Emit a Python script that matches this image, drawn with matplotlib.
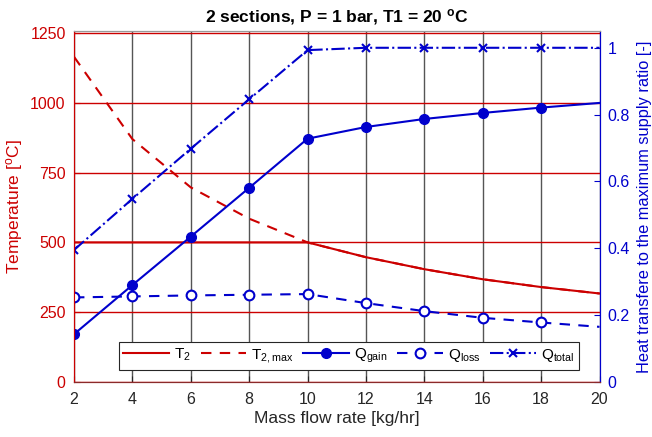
import numpy as np
import matplotlib
matplotlib.use('Agg')
import matplotlib.pyplot as plt

plt.rcParams['font.family'] = ['Liberation Sans', 'DejaVu Sans']
plt.rcParams['mathtext.default'] = 'regular'

m_dot = np.array([2, 4, 6, 8, 10, 12, 14, 16, 18, 20])
T2 = np.array([500, 500, 500, 500, 500, 447, 404, 368, 340, 317])
T2_max = np.array([1165, 870, 697, 585, 500, 447, 404, 368, 340, 317])
Q_gain = np.array([0.143, 0.290, 0.435, 0.581, 0.728, 0.763, 0.787, 0.805, 0.821, 0.835])
Q_loss = np.array([0.253, 0.256, 0.259, 0.261, 0.263, 0.236, 0.212, 0.192, 0.178, 0.165])
Q_total = np.array([0.395, 0.548, 0.698, 0.846, 0.993, 1.0, 1.0, 1.0, 1.0, 1.0])

red = '#cc0000'
blue = '#0000cc'
mk = slice(0, 9)  # no marker drawn at the last point

fig = plt.figure(figsize=(6.52, 4.37), dpi=100)
ax = fig.add_axes([0.1135, 0.1259, 0.806, 0.803])
ax2 = ax.twinx()

l1, = ax.plot(m_dot, T2, '-', color=red, lw=1.5, label='T$_2$')
l2, = ax.plot(m_dot, T2_max, '--', color=red, lw=1.5, dashes=(5, 4), label='T$_{2,max}$')

l3, = ax2.plot(m_dot, Q_gain, '-o', color=blue, lw=1.5, ms=7, markevery=mk, label='Q$_{gain}$')
l4, = ax2.plot(m_dot, Q_loss, '--o', color=blue, lw=1.5, ms=7, mfc='white', mew=1.5,
               dashes=(5, 4), markevery=mk, label='Q$_{loss}$')
l5, = ax2.plot(m_dot, Q_total, '-.x', color=blue, lw=1.5, ms=6, mew=1.5, markevery=mk,
               label='Q$_{total}$')

ax.set_xlim(2, 20)
ax.set_xticks(np.arange(2, 21, 2))
ax.set_ylim(0, 1257)
ax.set_yticks([0, 250, 500, 750, 1000, 1250])
ax2.set_ylim(0, 1.05)
ax2.set_yticks([0, 0.2, 0.4, 0.6, 0.8, 1])
ax2.set_yticklabels(['0', '0.2', '0.4', '0.6', '0.8', '1'])

ax.set_axisbelow(True)
ax.xaxis.grid(True, color='#555555', lw=1)
ax.yaxis.grid(True, color=red, lw=1)

ax.tick_params(axis='x', direction='in', colors='#262626', labelsize=11.5, length=4, pad=7)
ax.tick_params(axis='y', direction='in', colors=red, labelsize=11.5, length=4, pad=6)
ax2.tick_params(axis='y', direction='in', colors=blue, labelsize=11.5, length=4, pad=6)

for a in (ax, ax2):
    a.spines['left'].set_color(red)
    a.spines['right'].set_color(blue)
    a.spines['top'].set_color('#999999')
    a.spines['bottom'].set_color('#8b2a2a')

ax.set_xlabel('Mass flow rate [kg/hr]', fontsize=12.5, color='#262626', labelpad=3)
ax.set_ylabel('Temperature [$^{o}$C]', fontsize=12.5, color=red, labelpad=4)
ax2.set_ylabel('Heat transfere to the maximum supply ratio [-]', fontsize=11.8, color=blue,
               labelpad=5)
ax.set_title('2 sections, P = 1 bar, T1 = 20 $^{o}$C', fontsize=12.5, fontweight='bold', pad=7)

leg = ax2.legend(handles=[l1, l2, l3, l4, l5], loc='lower right', ncol=5,
                 bbox_to_anchor=(0.975, 0.013), fontsize=11, handlelength=3.0,
                 handletextpad=0.3, columnspacing=0.65, borderpad=0.3,
                 fancybox=False, framealpha=1, edgecolor='#262626')
leg.get_frame().set_linewidth(0.8)

fig.savefig('out.png', dpi=100)
